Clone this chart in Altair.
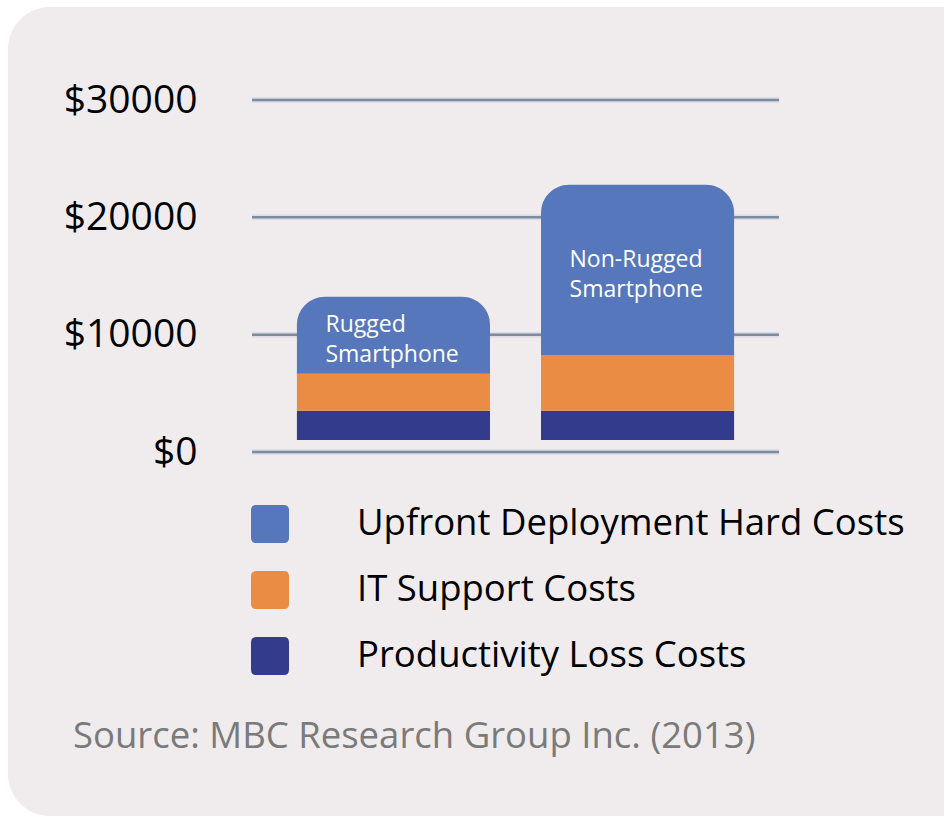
import altair as alt
import pandas as pd

# ---- data ----
devices = ["Rugged Smartphone", "Non-Rugged Smartphone"]
device_labels = ["Rugged\nSmartphone", "Non-Rugged\nSmartphone"]
categories = ["Upfront Deployment Hard Costs", "IT Support Costs", "Productivity Loss Costs"]
productivity = [2500, 2500]
it_support = [3150, 4750]
upfront = [6550, 14500]
tick_values = [0, 10000, 20000, 30000]
source_text = "Source: MBC Research Group Inc. (2013)"

# ---- style ----
colors = ["#5677bc", "#ea8c43", "#333b8c"]
CARD = "#f0eced"
GRID = "#7b8ca3"
FONT = "Open Sans"

rows = []
for i, d in enumerate(devices):
    p, it, up = productivity[i], it_support[i], upfront[i]
    rows.append({"device": d, "category": categories[2], "y0": 0, "y1": p, "order": 0})
    rows.append({"device": d, "category": categories[1], "y0": p, "y1": p + it, "order": 1})
    rows.append({"device": d, "category": categories[0], "y0": p + it, "y1": p + it + up, "order": 2})
seg = pd.DataFrame(rows)
lower = seg[seg["order"] < 2]
top = seg[seg["order"] == 2].copy()
top["mid"] = (top["y0"] + top["y1"]) / 2
top["label"] = device_labels

ticks = pd.DataFrame({"v": tick_values})

yscale = alt.Scale(domain=[0, 30000], nice=False, zero=True)
xscale = alt.Scale(domain=devices, paddingInner=0.209, paddingOuter=0.184)

rounded_square = ("M-1,-0.72 Q-1,-1 -0.72,-1 L0.72,-1 Q1,-1 1,-0.72 L1,0.72 "
                  "Q1,1 0.72,1 L-0.72,1 Q-1,1 -1,0.72 Z")

color_enc = alt.Color(
    "category:N",
    scale=alt.Scale(domain=categories, range=colors),
    legend=alt.Legend(
        orient="none", legendX=-1, legendY=405, title=None,
        symbolType=rounded_square, symbolSize=1444, symbolStrokeWidth=0,
        symbolOpacity=1, labelFontSize=36.5, labelFont=FONT, labelColor="#000000",
        labelOffset=68, rowPadding=28, labelLimit=0, padding=0,
    ),
)

card = alt.Chart(pd.DataFrame({"a": [0]})).mark_rect(
    color=CARD, cornerRadius=42
).encode(
    x=alt.value(-244), x2=alt.value(760), y=alt.value(-93), y2=alt.value(716)
)

grid_halo = alt.Chart(ticks).mark_rule(color="#dddde3", strokeWidth=6).encode(
    y=alt.Y("v:Q", scale=yscale,
            axis=alt.Axis(values=tick_values, labelExpr="'$' + datum.value",
                          grid=False, ticks=False, domain=False,
                          labelFontSize=39, labelFont=FONT, labelColor="#000000",
                          labelPadding=55, title=None, zindex=1))
)
grid_core = alt.Chart(ticks).mark_rule(color=GRID, strokeWidth=2.5).encode(
    y=alt.Y("v:Q", scale=yscale)
)

bars_lower = alt.Chart(lower).mark_bar(yOffset=-12, y2Offset=-12).encode(
    x=alt.X("device:N", scale=xscale, axis=None),
    y=alt.Y("y0:Q", scale=yscale),
    y2="y1:Q",
    color=color_enc,
)
bars_top = alt.Chart(top).mark_bar(
    yOffset=-12, y2Offset=-12, cornerRadiusTopLeft=28, cornerRadiusTopRight=28
).encode(
    x=alt.X("device:N", scale=xscale, axis=None),
    y=alt.Y("y0:Q", scale=yscale),
    y2="y1:Q",
    color=color_enc,
)

bar_text = alt.Chart(top).mark_text(
    align="left", baseline="middle", dx=-68, yOffset=-22, lineBreak="\n",
    lineHeight=30, fontSize=23, font=FONT, color="white"
).encode(
    x=alt.X("device:N", scale=xscale, axis=None),
    y=alt.Y("mid:Q", scale=yscale),
    text="label:N",
)

source = alt.Chart(pd.DataFrame({"t": [source_text]})).mark_text(
    align="left", baseline="middle", fontSize=36.5, font=FONT, color="#7a7a7a"
).encode(
    x=alt.value(73 - 252), y=alt.value(737 - 100), text="t:N"
)

chart = alt.layer(
    card, grid_halo, grid_core, bars_lower, bars_top, bar_text, source
).properties(
    width=527, height=352,
    autosize=alt.AutoSizeParams(type="none"),
    padding={"left": 252, "top": 100, "right": 165, "bottom": 365},
    background="white",
).configure_view(stroke=None)

chart.save("out.html", embed_options={"renderer": "svg", "actions": False})
